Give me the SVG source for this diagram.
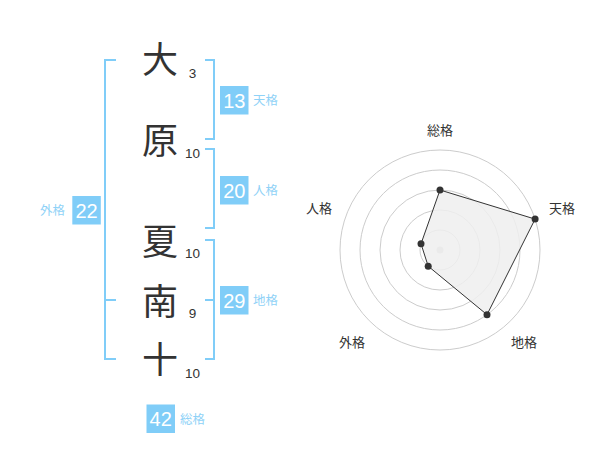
<svg xmlns="http://www.w3.org/2000/svg" width="600" height="470" viewBox="0 0 600 470">
<style>
.ch{font-family:"Noto Sans CJK JP","Noto Sans CJK SC",sans-serif;font-size:36px;fill:#333;text-anchor:middle}
.st{font-family:"Liberation Sans",Arial,sans-serif;font-size:13.5px;fill:#333;text-anchor:middle}
.br{fill:none;stroke:#80cdf8;stroke-width:2}
.bx{fill:#80cdf8}
.bn{font-family:"Liberation Sans",Arial,sans-serif;font-size:20px;fill:#fff;text-anchor:middle}
.lb{font-family:"Noto Sans CJK JP","Noto Sans CJK SC",sans-serif;font-size:12.5px;fill:#8fd2f7}
.rl{font-family:"Noto Sans CJK JP","Noto Sans CJK SC",sans-serif;font-size:13px;fill:#333;text-anchor:middle}
.ring{fill:none;stroke:#ccc;stroke-width:1}
.pt{fill:#333}
</style>
<rect width="600" height="470" fill="#fff"/>
<g id="chars">
<text class="ch" x="160" y="73">大</text>
<text class="ch" x="160" y="154">原</text>
<text class="ch" x="160" y="255">夏</text>
<text class="ch" x="160" y="315">南</text>
<text class="ch" x="160" y="373">十</text>
<text class="st" x="192.5" y="77.5">3</text>
<text class="st" x="192.5" y="158">10</text>
<text class="st" x="192.5" y="257.5">10</text>
<text class="st" x="192.5" y="318">9</text>
<text class="st" x="192.5" y="377.5">10</text>
</g>
<g id="connectors">
<path class="br" d="M116,60 H105 V359 H116 M105,300 H116"/>
<path class="br" d="M205,60 H214 V139 H205"/>
<path class="br" d="M205,149 H214 V228 H205"/>
<path class="br" d="M205,240 H214 V359 H205 M205,300 H214"/>
</g>
<g id="tenkaku">
<rect class="bx" x="220" y="86" width="28.5" height="28.5"/>
<text class="bn" x="234.3" y="107.5">13</text>
<text class="lb" x="253" y="104.5">天格</text>
</g>
<g id="jinkaku">
<rect class="bx" x="220" y="176" width="28.5" height="28.5"/>
<text class="bn" x="234.3" y="197.5">20</text>
<text class="lb" x="253" y="194.5">人格</text>
</g>
<g id="chikaku">
<rect class="bx" x="220" y="286" width="28.5" height="28.5"/>
<text class="bn" x="234.3" y="307.5">29</text>
<text class="lb" x="253" y="304.5">地格</text>
</g>
<g id="gaikaku">
<rect class="bx" x="72.3" y="196" width="28.5" height="28.5"/>
<text class="bn" x="86.5" y="217.5">22</text>
<text class="lb" x="40" y="214.5">外格</text>
</g>
<g id="soukaku">
<rect class="bx" x="146.5" y="404.5" width="28.5" height="28.5"/>
<text class="bn" x="160.7" y="426">42</text>
<text class="lb" x="180" y="423.5">総格</text>
</g>
<g id="radar">
<circle class="ring" cx="440" cy="250" r="20"/>
<circle class="ring" cx="440" cy="250" r="40"/>
<circle class="ring" cx="440" cy="250" r="60"/>
<circle class="ring" cx="440" cy="250" r="80"/>
<circle class="ring" cx="440" cy="250" r="100"/>
<circle cx="440" cy="250" r="3.5" fill="#ccc"/>
<polygon points="440,190 535.1,219.1 487,314.7 428.2,266.2 421,243.8" fill="#eee" fill-opacity="0.85" stroke="#333" stroke-width="1"/>
<circle class="pt" cx="440" cy="190" r="3.5"/>
<circle class="pt" cx="535.1" cy="219.1" r="3.5"/>
<circle class="pt" cx="487" cy="314.7" r="3.5"/>
<circle class="pt" cx="428.2" cy="266.2" r="3.5"/>
<circle class="pt" cx="421" cy="243.8" r="3.5"/>
<text class="rl" x="440" y="135">総格</text>
<text class="rl" x="562" y="213">天格</text>
<text class="rl" x="319" y="213">人格</text>
<text class="rl" x="352" y="347">外格</text>
<text class="rl" x="524" y="347">地格</text>
</g>
</svg>
